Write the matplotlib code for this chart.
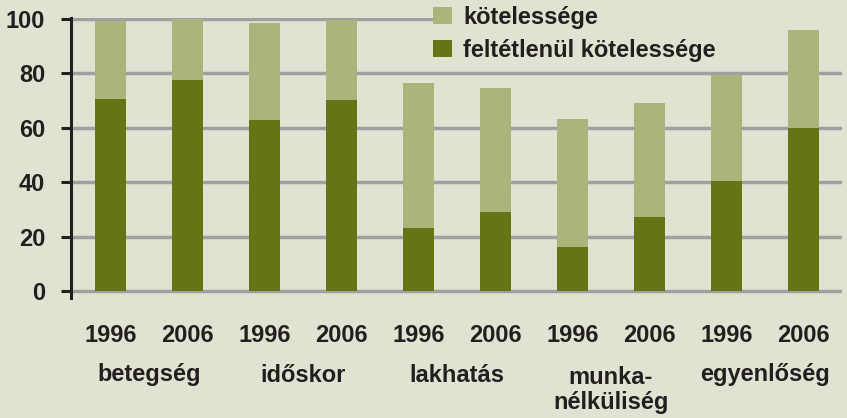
import matplotlib
matplotlib.use('Agg')
import matplotlib.pyplot as plt
import matplotlib.transforms as mtransforms
import numpy as np

plt.rcParams['font.family'] = ['Liberation Sans', 'DejaVu Sans']
plt.rcParams['font.weight'] = 'bold'

# adatok
categories = ['betegség', 'időskor', 'lakhatás', 'munka-\nnélküliség', 'egyenlőség']
years = ['1996', '2006']
feltetlenul = [70.6, 77.6, 62.9, 70.2, 23.2, 29.0, 16.2, 27.2, 40.4, 60.0]
osszesen = [99.3, 100.0, 98.5, 99.6, 76.5, 74.6, 63.2, 69.1, 79.4, 96.0]
kotelessege = [t - f for t, f in zip(osszesen, feltetlenul)]

bg = '#e1e3d2'
dark = '#677416'
light = '#aab47b'
grid_c = '#a0a0a2'
txt = '#231f20'

fig = plt.figure(figsize=(8.47, 4.18), dpi=100, facecolor=bg)
ax = fig.add_axes([71/847, 120/418, (842-71)/847, (298-17.6)/418])
ax.set_facecolor(bg)

x = np.arange(len(feltetlenul))
ax.bar(x, feltetlenul, width=0.40, color=dark, zorder=3, label='feltétlenül kötelessége')
ax.bar(x, kotelessege, width=0.40, bottom=feltetlenul, color=light, zorder=3, label='kötelessége')

ax.set_xlim(-0.513, 9.5)
ax.set_ylim(-2.6, 100.5)

yt = [0, 20, 40, 60, 80, 100]
for v in yt:
    xmax = 0.4695 if v == 100 else 1
    ax.axhline(v, xmin=0, xmax=xmax, color=grid_c, lw=2.5, zorder=1)

ax.set_yticks(yt)
ax.set_yticklabels([str(v) for v in yt], fontsize=17, color=txt)
ax.tick_params(axis='y', length=7, width=2.2, color=txt, pad=11.5)
ax.set_xticks(x)
ax.set_xticklabels([years[i % 2] for i in x], fontsize=17, color=txt)
ax.tick_params(axis='x', length=0, pad=19)

for s in ['top', 'right', 'bottom']:
    ax.spines[s].set_visible(False)
ax.spines['left'].set_linewidth(2.2)
ax.spines['left'].set_color(txt)
ax.spines['left'].set_zorder(4)

trans = mtransforms.blended_transform_factory(ax.transData, fig.transFigure)
for i, c in enumerate(categories):
    cx = 2 * i + 0.5
    if '\n' in c:
        ax.text(cx, 1 - 366/418, c, transform=trans, ha='center', va='top',
                fontsize=17, color=txt, linespacing=1.1)
    else:
        ax.text(cx, 1 - 375/418, c, transform=trans, ha='center', va='center',
                fontsize=17, color=txt)

h, l = ax.get_legend_handles_labels()
leg = ax.legend(h[::-1], l[::-1], loc='upper left', bbox_to_anchor=(433/847, 1 - 6/418),
                bbox_transform=fig.transFigure, frameon=False, fontsize=17,
                handlelength=0.8, handleheight=0.72, handletextpad=0.47,
                labelspacing=0.42, borderpad=0, borderaxespad=0)
for t in leg.get_texts():
    t.set_color(txt)

fig.savefig('out.png', dpi=100, facecolor=bg)
